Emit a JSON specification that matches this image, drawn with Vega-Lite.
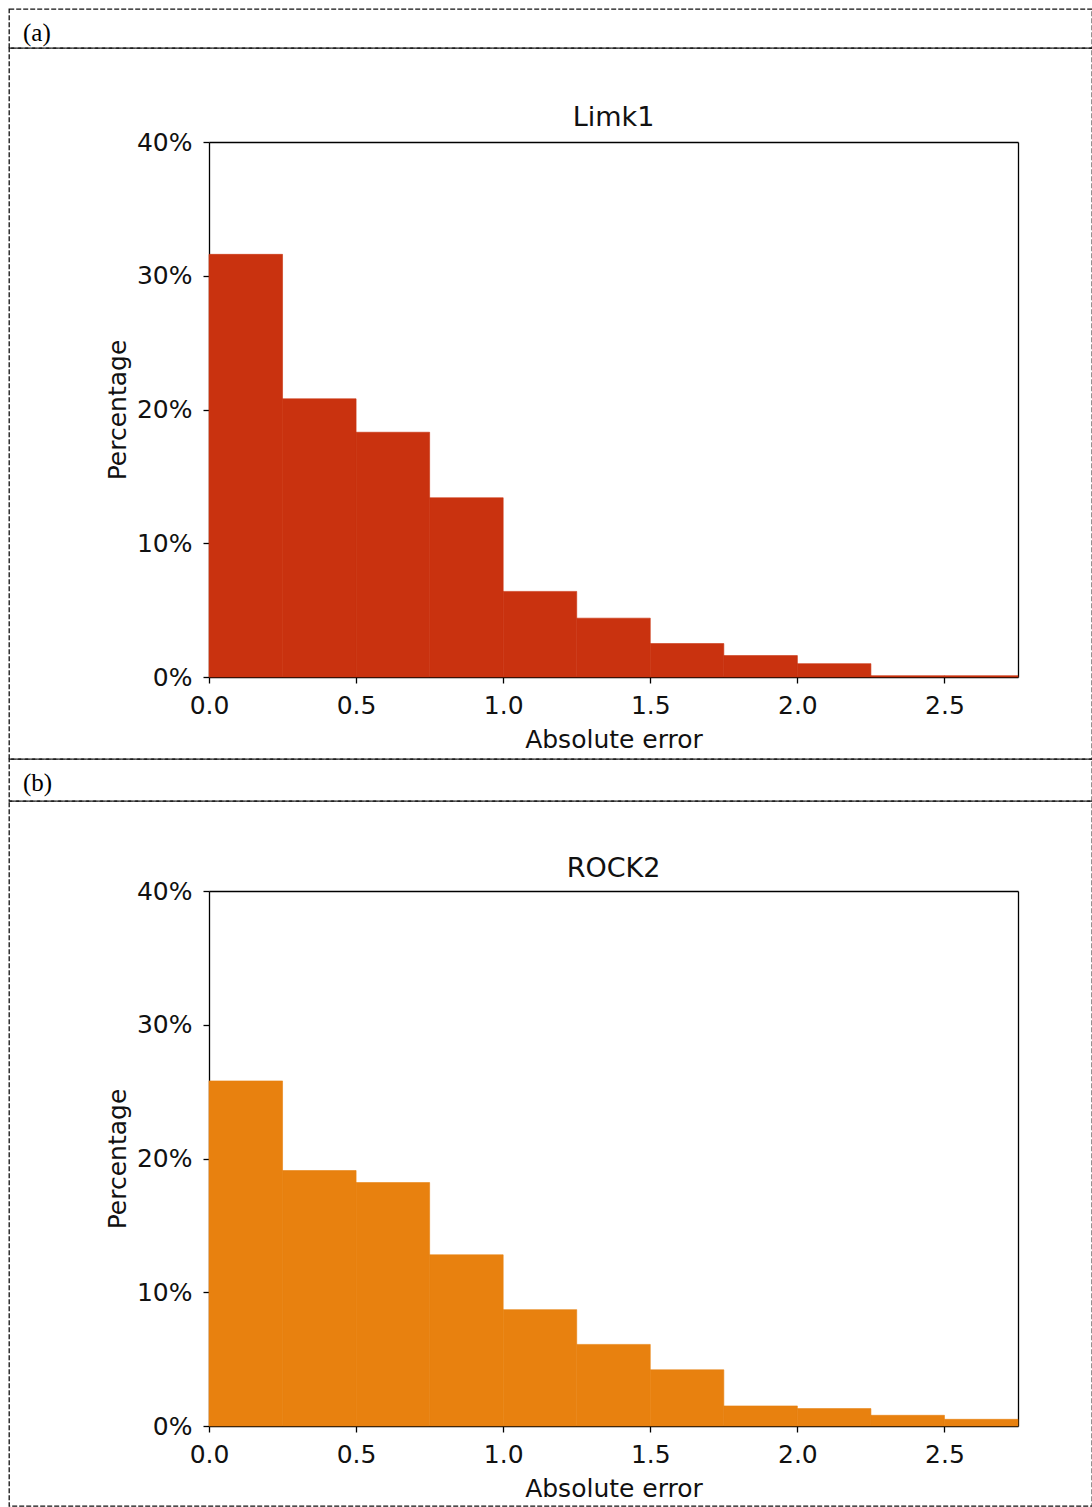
{
  "$schema": "https://vega.github.io/schema/vega-lite/v6.json",
  "padding": {"left": 8, "top": 8, "right": 0, "bottom": 0},
  "background": "white",
  "spacing": 0,
  "bounds": "flush",
  "datasets": {
    "limk1": [
      {"target": "Limk1", "bin_start": 0.0, "bin_end": 0.25, "pct": 31.6},
      {"target": "Limk1", "bin_start": 0.25, "bin_end": 0.5, "pct": 20.8},
      {"target": "Limk1", "bin_start": 0.5, "bin_end": 0.75, "pct": 18.3},
      {"target": "Limk1", "bin_start": 0.75, "bin_end": 1.0, "pct": 13.4},
      {"target": "Limk1", "bin_start": 1.0, "bin_end": 1.25, "pct": 6.4},
      {"target": "Limk1", "bin_start": 1.25, "bin_end": 1.5, "pct": 4.4},
      {"target": "Limk1", "bin_start": 1.5, "bin_end": 1.75, "pct": 2.5},
      {"target": "Limk1", "bin_start": 1.75, "bin_end": 2.0, "pct": 1.6},
      {"target": "Limk1", "bin_start": 2.0, "bin_end": 2.25, "pct": 1.0},
      {"target": "Limk1", "bin_start": 2.25, "bin_end": 2.5, "pct": 0.1},
      {"target": "Limk1", "bin_start": 2.5, "bin_end": 2.75, "pct": 0.1}
    ],
    "rock2": [
      {"target": "ROCK2", "bin_start": 0.0, "bin_end": 0.25, "pct": 25.8},
      {"target": "ROCK2", "bin_start": 0.25, "bin_end": 0.5, "pct": 19.1},
      {"target": "ROCK2", "bin_start": 0.5, "bin_end": 0.75, "pct": 18.2},
      {"target": "ROCK2", "bin_start": 0.75, "bin_end": 1.0, "pct": 12.8},
      {"target": "ROCK2", "bin_start": 1.0, "bin_end": 1.25, "pct": 8.7},
      {"target": "ROCK2", "bin_start": 1.25, "bin_end": 1.5, "pct": 6.1},
      {"target": "ROCK2", "bin_start": 1.5, "bin_end": 1.75, "pct": 4.2},
      {"target": "ROCK2", "bin_start": 1.75, "bin_end": 2.0, "pct": 1.5},
      {"target": "ROCK2", "bin_start": 2.0, "bin_end": 2.25, "pct": 1.3},
      {"target": "ROCK2", "bin_start": 2.25, "bin_end": 2.5, "pct": 0.8},
      {"target": "ROCK2", "bin_start": 2.5, "bin_end": 2.75, "pct": 0.5}
    ]
  },
  "config": {
    "font": "DejaVu Sans",
    "axis": {
      "grid": false,
      "domainColor": "#000",
      "domainWidth": 1.3,
      "tickColor": "#000",
      "tickWidth": 1.3,
      "tickSize": 6,
      "labelFont": "DejaVu Sans",
      "labelFontSize": 25,
      "labelColor": "#111",
      "labelFlush": false,
      "titleFont": "DejaVu Sans",
      "titleFontSize": 25,
      "titleFontWeight": "normal",
      "titleColor": "#111"
    },
    "view": {"stroke": "#111", "strokeDash": [5, 2], "strokeWidth": 1.3}
  },
  "vconcat": [
    {
      "width": 1083,
      "height": 39,
      "view": {"stroke": "#111", "strokeDash": [5, 2], "strokeWidth": 1.3, "fill": "transparent"},
      "title": {"text": "(a)", "anchor": "start", "orient": "top", "frame": "group", "offset": -57, "baseline": "alphabetic", "dx": 14, "font": "Liberation Serif", "fontSize": 25, "fontWeight": "normal", "color": "#000"},
      "data": {"values": [{"panel": "(a)"}]},
      "mark": {"type": "rect", "fill": "transparent"},
      "encoding": {}
    },
    {
      "width": 1083,
      "height": 711,
      "data": {"name": "limk1"},
      "resolve": {"axis": {"x": "independent", "y": "independent"}},
      "layer": [
        {
          "mark": {"type": "rect", "color": "#c9320f", "stroke": "#c9320f", "strokeWidth": 0.6},
          "encoding": {
            "x": {"field": "bin_start", "type": "quantitative",
              "scale": {"domain": [0, 2.75], "range": [200, 1009], "nice": false, "zero": false},
              "axis": {"orient": "bottom", "offset": -82, "values": [0, 0.5, 1, 1.5, 2, 2.5], "format": ".1f", "title": "Absolute error", "labelPadding": 10, "titlePadding": 9}},
            "x2": {"field": "bin_end"},
            "y": {"field": "pct", "type": "quantitative",
              "scale": {"domain": [0, 40], "range": [629, 94], "nice": false},
              "axis": {"orient": "left", "offset": -200, "values": [0, 10, 20, 30, 40], "labelExpr": "datum.value + '%'", "title": "Percentage", "labelPadding": 11, "titlePadding": 6}},
            "y2": {"datum": 0}
          }
        },
        {
          "data": {"values": [{"target": "Limk1"}]},
          "mark": {"type": "text", "fontSize": 27, "baseline": "alphabetic", "align": "center", "color": "#111"},
          "encoding": {
            "x": {"datum": 1.375, "type": "quantitative", "axis": {"orient": "top", "offset": -94, "labels": false, "ticks": false, "title": null}},
            "y": {"datum": 41.18, "type": "quantitative", "axis": {"orient": "right", "offset": -74, "labels": false, "ticks": false, "title": null}},
            "text": {"field": "target"}
          }
        }
      ]
    },
    {
      "width": 1083,
      "height": 42,
      "view": {"stroke": "#111", "strokeDash": [5, 2], "strokeWidth": 1.3, "fill": "transparent"},
      "title": {"text": "(b)", "anchor": "start", "orient": "top", "frame": "group", "offset": -57, "baseline": "alphabetic", "dx": 14, "font": "Liberation Serif", "fontSize": 25, "fontWeight": "normal", "color": "#000"},
      "data": {"values": [{"panel": "(b)"}]},
      "mark": {"type": "rect", "fill": "transparent"},
      "encoding": {}
    },
    {
      "width": 1083,
      "height": 705,
      "data": {"name": "rock2"},
      "resolve": {"axis": {"x": "independent", "y": "independent"}},
      "layer": [
        {
          "mark": {"type": "rect", "color": "#e8810f", "stroke": "#e8810f", "strokeWidth": 0.6},
          "encoding": {
            "x": {"field": "bin_start", "type": "quantitative",
              "scale": {"domain": [0, 2.75], "range": [200, 1009], "nice": false, "zero": false},
              "axis": {"orient": "bottom", "offset": -80, "values": [0, 0.5, 1, 1.5, 2, 2.5], "format": ".1f", "title": "Absolute error", "labelPadding": 10, "titlePadding": 9}},
            "x2": {"field": "bin_end"},
            "y": {"field": "pct", "type": "quantitative",
              "scale": {"domain": [0, 40], "range": [625, 90], "nice": false},
              "axis": {"orient": "left", "offset": -200, "values": [0, 10, 20, 30, 40], "labelExpr": "datum.value + '%'", "title": "Percentage", "labelPadding": 11, "titlePadding": 6}},
            "y2": {"datum": 0}
          }
        },
        {
          "data": {"values": [{"target": "ROCK2"}]},
          "mark": {"type": "text", "fontSize": 27, "baseline": "alphabetic", "align": "center", "color": "#111"},
          "encoding": {
            "x": {"datum": 1.375, "type": "quantitative", "axis": {"orient": "top", "offset": -90, "labels": false, "ticks": false, "title": null}},
            "y": {"datum": 41.03, "type": "quantitative", "axis": {"orient": "right", "offset": -74, "labels": false, "ticks": false, "title": null}},
            "text": {"field": "target"}
          }
        }
      ]
    }
  ]
}
